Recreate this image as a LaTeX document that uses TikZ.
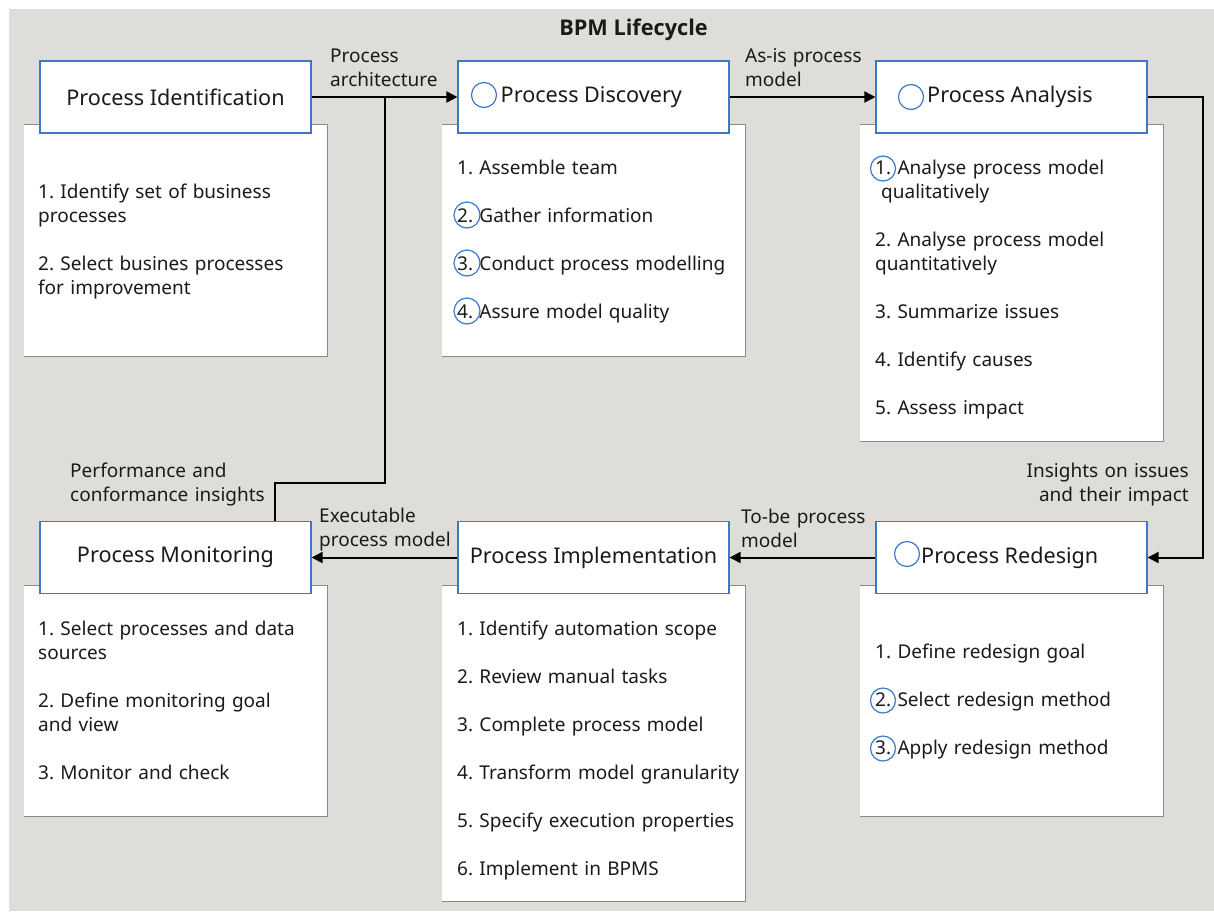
\documentclass[tikz,border=0pt]{standalone}
\usepackage{fontspec}
\setmainfont{Noto Sans}
\newfontfamily\titlefont{Open Sans}
\usetikzlibrary{arrows.meta}
\definecolor{bggray}{HTML}{DEDDD9}
\definecolor{hblue}{RGB}{61,120,198}
\definecolor{txt}{HTML}{1A1A1A}
\definecolor{edgegray}{HTML}{8A8A8A}
\begin{document}
\frenchspacing
\begin{tikzpicture}[x=1pt,y=-1pt,
  every node/.style={text=txt, inner sep=0pt},
  hbox/.style={draw=hblue, line width=1.2pt, fill=white, minimum width=271pt, minimum height=72pt, font=\fontsize{21.6}{26}\selectfont},
  dbox/.style={fill=white, minimum width=303pt},
  dedge/.style={draw=edgegray, line width=0.9pt},
  htext/.style={anchor=west, font=\fontsize{21.6}{26}\selectfont},
  dtext/.style={anchor=base west, align=left, text width=300pt, font=\frenchspacing\fontsize{19}{24}\selectfont},
  lbl/.style={anchor=base west, align=left, text width=220pt, font=\frenchspacing\fontsize{19}{24}\selectfont},
  lblr/.style={anchor=base east, align=right, text width=220pt, font=\frenchspacing\fontsize{19}{24}\selectfont},
  conn/.style={draw=black, line width=2pt},
  arr/.style={conn, -{Triangle[length=11pt,width=11pt]}},
  icon/.style={draw=hblue, line width=1.2pt},
]
\useasboundingbox (0,0) rectangle (1214,911);
\fill[bggray] (9,9) rectangle (1214,911);

\node[font=\titlefont\bfseries\fontsize{21.7}{26}\selectfont, anchor=base] (title) at (633.5,35) {BPM Lifecycle};

% description boxes
\node[dbox, minimum height=231pt] (did) at (175.5,240.5) {};
\node[dbox, minimum height=231pt] (ddisc) at (593.5,240.5) {};
\node[dbox, minimum height=316pt] (dana) at (1011.5,283) {};
\node[dbox, minimum height=230pt] (dmon) at (175.5,701) {};
\node[dbox, minimum height=315pt] (dimp) at (593.5,743.5) {};
\node[dbox, minimum height=230pt] (dred) at (1011.5,701) {};
\foreach \b in {did,ddisc,dana,dmon,dimp,dred}{
  \draw[dedge] (\b.north west) -- (\b.north east) -- (\b.south east) -- (\b.south west);
}

% header boxes
\node[hbox] (hid) at (175.5,97) {Process Identification};
\node[hbox] (hdisc) at (593.5,97) {};
\node[hbox] (hana) at (1011.5,97) {};
\node[hbox] (hmon) at (175.5,557.5) {Process Monitoring};
\node[hbox] (himp) at (593.5,557.5) {Process Implementation};
\node[hbox] (hred) at (1011.5,557.5) {};
\node[htext] (tdisc) at (500.5,97) {Process Discovery};
\node[htext] (tana) at (927,97) {Process Analysis};
\node[htext] (tred) at (921,557.5) {Process Redesign};
\draw[icon] (484,95) circle (12.5);
\draw[icon] (911,97) circle (12.5);
\draw[icon] (907,554) circle (12.5);

% description texts
\node[dtext] (xid) at (38,198) {1. Identify set of business\\processes\\[24pt]2. Select busines processes\\for improvement};
\node[dtext] (xdisc) at (457,174) {1. Assemble team\\[24pt]2. Gather information\\[24pt]3. Conduct process modelling\\[24pt]4. Assure model quality};
\node[dtext] (xana) at (875,174) {1. Analyse process model\\\hspace*{6pt}qualitatively\\[24pt]2. Analyse process model\\quantitatively\\[24pt]3. Summarize issues\\[24pt]4. Identify causes\\[24pt]5. Assess impact};
\node[dtext] (xmon) at (38,635) {1. Select processes and data\\sources\\[24pt]2. Define monitoring goal\\and view\\[24pt]3. Monitor and check};
\node[dtext] (ximp) at (457,635) {1. Identify automation scope\\[24pt]2. Review manual tasks\\[24pt]3. Complete process model\\[24pt]4. Transform model granularity\\[24pt]5. Specify execution properties\\[24pt]6. Implement in BPMS};
\node[dtext] (xred) at (875,658) {1. Define redesign goal\\[24pt]2. Select redesign method\\[24pt]3. Apply redesign method};
\draw[icon] (467,215) circle (13);
\draw[icon] (467,263) circle (13);
\draw[icon] (467,311) circle (13);
\draw[icon] (883,168.5) circle (12.5);
\draw[icon] (883,700.5) circle (12.5);
\draw[icon] (883,748.5) circle (12.5);

% connectors
\coordinate (j1) at (385,97);
\coordinate (j2) at (385,483);
\coordinate (mx) at (275,0);
\coordinate (r1) at (1203,97);
\draw[arr] (hid.east) -- (hdisc.west);
\draw[conn] (hmon.north -| mx) |- (j2) -- (j1);
\draw[arr] (hdisc.east) -- (hana.west);
\draw[arr] (hana.east) -- (r1) |- (hred.east);
\draw[arr] (hred.west) -- (himp.east);
\draw[arr] (himp.west) -- (hmon.east);

% connector labels
\node[lbl] (l1) at (330,62) {Process\\architecture};
\node[lbl] (l2) at (745,62) {As-is process\\model};
\node[lbl] (l3) at (70,477) {Performance and\\conformance insights};
\node[lbl] (l4) at (319,522) {Executable\\process model};
\node[lbl] (l5) at (741,523) {To-be process\\model};
\node[lblr] (l6) at (1189,477) {Insights on issues\\and their impact};
\end{tikzpicture}
\end{document}
